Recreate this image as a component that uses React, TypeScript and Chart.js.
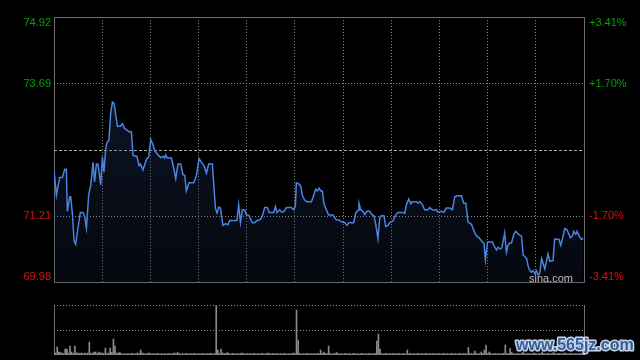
import React, { useEffect, useRef } from 'react';
import { Chart, registerables } from 'chart.js';

Chart.register(...registerables);

// ---- data ----
// minutes since the 09:30 open (HK session: 330 trading minutes)
const minutes = [
  0, 1.5, 3.5, 5.2, 6.7, 7.7, 8.3, 9.8, 10.4, 11.5, 12.5, 13.5, 14.9, 16.4, 18.1, 19.1, 20.2, 21.6, 22.9, 24.3,
  25.3, 26.4, 27.4, 29.1, 30.1, 31.1, 32.2, 33.0, 34.2, 35.3, 36.4, 37.4, 38.4, 39.5, 41.3, 42.6, 44.0, 45.5, 46.7, 48.2,
  49.2, 51.7, 52.9, 53.8, 55.4, 57.5, 59.0, 60.2, 61.3, 62.7, 64.8, 66.4, 67.9, 68.9, 69.5, 70.6, 73.1, 74.5, 75.8, 77.2,
  78.9, 80.3, 81.4, 82.4, 84.1, 87.0, 88.7, 90.3, 91.8, 93.4, 94.9, 96.3, 98.6, 100.5, 101.5, 102.7, 103.6, 105.2, 106.9, 108.3,
  109.4, 111.1, 113.9, 115.0, 116.1, 117.3, 118.7, 119.8, 121.4,
  123.5, 125.0, 126.4, 128.5, 129.8, 131.2, 132.9, 133.9, 136.8, 137.9, 138.8, 140.5, 142.0, 143.2, 144.7, 147.8, 149.2, 150.3, 150.9, 152.4,
  153.6, 154.7, 156.1, 157.5, 160.3, 161.7, 162.9, 164.0, 165.0, 166.1, 167.1, 168.1, 169.6, 171.0, 173.7, 175.4, 177.9, 179.3, 181.0, 182.4,
  183.7, 186.6, 187.9, 189.3, 189.9, 191.0, 192.4, 193.5, 194.9, 196.6, 198.0, 199.2, 200.3, 201.7, 202.8, 203.8, 205.5, 206.5, 208.0, 209.0,
  211.1, 212.8, 214.2, 216.9, 218.4, 219.4, 220.9, 222.1, 223.2, 225.7, 226.7, 227.8, 229.4, 230.8, 232.9, 234.0, 235.6, 237.1, 238.1, 239.1,
  241.2, 242.8, 244.3, 246.4,
  248.1, 249.5, 250.9, 253.7, 255.1, 256.4, 257.8, 259.9, 262.0, 263.4, 264.7, 266.7, 267.7, 268.6, 269.9, 273.0, 274.0, 275.5, 276.5, 278.0,
  278.9, 280.6, 281.7, 282.7, 283.8, 284.8, 286.3, 287.5, 289.4, 291.1, 292.1, 293.1, 294.2, 295.2, 296.2, 297.3, 298.3, 299.4, 300.4, 301.5,
  302.5, 303.6, 304.5, 305.6, 306.6, 307.6, 308.7, 309.7, 310.7, 311.7, 314.4, 315.5, 316.5, 318.0, 319.4, 320.7, 321.5, 322.8, 323.6, 324.9,
  325.7, 327.0, 328.5, 329.5,
];

const prices = [
  72.08, 71.61, 71.94, 71.94, 72.09, 72.09, 71.31, 71.58, 71.58, 71.25, 70.76, 70.70, 71.00, 71.29, 71.29, 71.22, 71.00, 71.61, 71.80, 72.22,
  71.86, 72.19, 72.19, 71.80, 72.33, 72.04, 72.47, 72.59, 72.63, 73.14, 73.34, 73.32, 73.11, 72.89, 72.89, 72.94, 72.85, 72.82, 72.79, 72.79,
  72.35, 72.33, 72.16, 72.19, 72.08, 72.27, 72.33, 72.65, 72.57, 72.44, 72.36, 72.31, 72.33, 72.30, 72.36, 72.30, 72.30, 72.12, 71.92, 72.19,
  72.19, 71.99, 71.98, 71.69, 71.84, 71.84, 71.98, 72.29, 72.22, 72.16, 72.02, 72.19, 72.19, 71.37, 71.28, 71.39, 71.37, 71.05, 71.08, 71.06,
  71.14, 71.14, 71.14, 71.43, 71.10, 71.34, 71.33, 71.25, 71.23,
  71.10, 71.10, 71.14, 71.16, 71.23, 71.38, 71.38, 71.29, 71.29, 71.40, 71.29, 71.34, 71.29, 71.31, 71.38, 71.38, 71.34, 71.41, 71.84, 71.82,
  71.78, 71.60, 71.52, 71.49, 71.49, 71.61, 71.72, 71.69, 71.74, 71.69, 71.69, 71.45, 71.34, 71.24, 71.24, 71.16, 71.14, 71.11, 71.10, 71.05,
  71.10, 71.10, 71.28, 71.33, 71.46, 71.34, 71.31, 71.25, 71.31, 71.31, 71.25, 71.23, 71.07, 70.80, 71.19, 71.23, 71.23, 71.03, 71.05, 71.10,
  71.13, 71.25, 71.29, 71.29, 71.27, 71.43, 71.54, 71.45, 71.49, 71.49, 71.46, 71.49, 71.43, 71.34, 71.34, 71.38, 71.34, 71.33, 71.34, 71.29,
  71.31, 71.29, 71.37, 71.37,
  71.34, 71.58, 71.60, 71.60, 71.46, 71.46, 71.11, 71.07, 70.91, 70.84, 70.82, 70.74, 70.72, 70.41, 70.74, 70.74, 70.67, 70.59, 70.64, 70.61,
  70.64, 70.91, 70.55, 70.68, 70.72, 70.72, 70.88, 70.94, 70.88, 70.85, 70.50, 70.47, 70.44, 70.30, 70.21, 70.18, 70.21, 70.15, 70.21, 70.12,
  70.17, 70.43, 70.35, 70.24, 70.38, 70.52, 70.38, 70.39, 70.39, 70.79, 70.79, 70.68, 70.79, 70.99, 70.97, 70.88, 70.82, 70.85, 70.94, 70.88,
  70.94, 70.85, 70.79, 70.80,
];

// per-minute volume (relative units, panel top = 100), minutes 0..330
const volumes = [
  10, 4, 16, 6, 5, 4, 3, 12, 12, 4, 18, 6, 3, 18, 4, 4, 3, 4, 3, 4, 3, 4, 26, 3, 4, 6, 6, 3, 6, 4,
  4, 3, 14, 3, 4, 14, 5, 32, 18, 4, 4, 5, 3, 2, 3, 2, 3, 2, 3, 3, 2, 3, 4, 3, 10, 4, 3, 2, 3, 4,
  3, 2, 3, 2, 3, 3, 2, 3, 2, 3, 2, 3, 3, 2, 3, 4, 3, 5, 3, 2, 3, 2, 3, 3, 2, 3, 2, 3, 3, 2,
  3, 2, 3, 3, 2, 3, 2, 3, 3, 2, 3, 100, 10, 3, 12, 4, 3, 3, 5, 3, 2, 3, 3, 2, 3, 2, 3, 4, 3, 2,
  3, 2, 3, 2, 3, 3, 2, 3, 2, 3, 3, 2, 3, 4, 3, 2, 3, 3, 2, 3, 2, 3, 2, 3, 3, 2, 3, 2, 3, 4,
  3, 90, 30, 3, 2, 3, 2, 3, 3, 2, 3, 2, 3, 2, 3, 3, 10, 3, 6, 3, 3, 18, 3, 2, 3, 3, 5, 3, 2, 3,
  2, 3, 3, 2, 3, 2, 3, 3, 2, 3, 2, 3, 3, 2, 3, 2, 3, 3, 2, 3, 3, 28, 42, 12, 3, 2, 3, 3, 2, 3,
  2, 3, 3, 2, 3, 3, 2, 3, 3, 2, 10, 3, 3, 2, 3, 2, 3, 3, 2, 3, 2, 3, 3, 2, 3, 2, 3, 3, 2, 3,
  3, 2, 3, 3, 2, 3, 2, 3, 3, 2, 3, 2, 3, 3, 2, 3, 3, 2, 15, 3, 3, 2, 8, 3, 2, 3, 6, 3, 10, 20,
  3, 6, 3, 2, 3, 3, 2, 3, 2, 3, 3, 20, 3, 3, 13, 5, 3, 2, 3, 3, 2, 3, 6, 3, 2, 3, 3, 2, 3, 4,
  3, 2, 3, 3, 6, 3, 2, 3, 3, 2, 3, 5, 3, 2, 3, 3, 2, 3, 4, 3, 2, 3, 3, 2, 3, 3, 2, 3, 3, 2,
  3,
];

const priceMin = 69.98;
const priceMax = 74.92;
const priceTicks = [69.98, 71.215, 72.45, 73.685, 74.92];
const leftLabels = ['69.98', '71.21', '', '73.69', '74.92'];
const rightLabels = ['-3.41%', '-1.70%', '', '+1.70%', '+3.41%'];
const timeTicks = [0, 30, 60, 90, 120, 150, 180, 210, 240, 270, 300, 330];
const volTicks = [50, 100];
const sessionMinutes = 330;
const volMax = 100;

// ---- styles ----
const FONT_FAMILY = "'Liberation Sans', Arial, sans-serif";
const GREEN = '#00a400';
const RED = '#d81414';
const FRAME = '#6e6e6e';
const DOT = '#8e8e8e';
const MID = '#a8a8a8';
const LINE = '#4a84e2';
const VOL = '#8a8a8a';

const setTicks = (vals: number[]) => (s: any) => {
  s.ticks = vals.map((v) => ({ value: v }));
};

const labelCb = (arr: string[]) => (_v: any, index: number, ticks: any[]) => {
  const s = arr[index];
  if (!s) return '';
  if (index === ticks.length - 1) return ['', s];
  if (index === 0) return [s, ''];
  return s;
};

const tickFont = { family: FONT_FAMILY, size: 11, lineHeight: 1.1 };

const sinaPlugin = {
  id: 'sinaMark',
  afterDatasetsDraw(chart: any) {
    const { ctx, chartArea } = chart;
    ctx.save();
    ctx.font = `11px ${FONT_FAMILY}`;
    ctx.fillStyle = '#bcbcbc';
    ctx.textAlign = 'right';
    ctx.textBaseline = 'alphabetic';
    ctx.fillText('sina.com', chartArea.right - 11, chartArea.bottom - 1);
    ctx.restore();
  },
};

const sitePlugin = {
  id: 'siteMark',
  afterDraw(chart: any) {
    const { ctx } = chart;
    ctx.save();
    ctx.font = `bold 16px ${FONT_FAMILY}`;
    ctx.textAlign = 'left';
    ctx.textBaseline = 'alphabetic';
    ctx.lineJoin = 'round';
    ctx.lineWidth = 3;
    ctx.strokeStyle = 'rgba(214,226,244,0.92)';
    ctx.strokeText('www.565jz.com', 516, 60);
    ctx.fillStyle = '#30609f';
    ctx.fillText('www.565jz.com', 516, 60);
    ctx.restore();
  },
};

function priceConfig(): any {
  return {
    type: 'line',
    data: {
      datasets: [
        {
          data: minutes.map((m, i) => ({ x: m, y: prices[i] })),
          borderColor: LINE,
          borderWidth: 1.5,
          pointRadius: 0,
          tension: 0,
          fill: 'start',
          backgroundColor: (c: any) => {
            const { ctx, chartArea } = c.chart;
            if (!chartArea) return 'rgba(0,0,0,0)';
            const g = ctx.createLinearGradient(0, chartArea.top, 0, chartArea.bottom);
            g.addColorStop(0, 'rgba(40,70,130,0.40)');
            g.addColorStop(1, 'rgba(30,50,90,0.15)');
            return g;
          },
          xAxisID: 'x',
          yAxisID: 'y',
        },
      ],
    },
    options: {
      responsive: false,
      animation: false,
      devicePixelRatio: 1,
      layout: { padding: { top: 14, bottom: 16, left: 0, right: 0 } },
      plugins: { legend: { display: false }, tooltip: { enabled: false } },
      scales: {
        x: {
          type: 'linear',
          min: 0,
          max: sessionMinutes,
          offset: false,
          afterBuildTicks: setTicks(timeTicks),
          afterFit: (s: any) => {
            s.height = 0;
          },
          ticks: { display: false },
          grid: {
            offset: false,
            drawTicks: false,
            lineWidth: 1,
            color: (c: any) => (c.index === 0 || c.index === timeTicks.length - 1 ? FRAME : DOT),
          },
          border: {
            display: false,
            dash: (c: any) => (c.index === 0 || c.index === timeTicks.length - 1 ? [] : [1, 2]),
          },
        },
        y: {
          type: 'linear',
          position: 'left',
          min: priceMin,
          max: priceMax,
          afterBuildTicks: setTicks(priceTicks),
          afterFit: (s: any) => {
            s.width = 54;
          },
          ticks: {
            padding: 3,
            font: tickFont,
            color: (c: any) => (c.index < 2 ? RED : GREEN),
            callback: labelCb(leftLabels),
          },
          grid: {
            drawTicks: false,
            lineWidth: 1,
            color: (c: any) => {
              const i = c.index;
              if (i === 0 || i === priceTicks.length - 1) return FRAME;
              if (i === 2) return MID;
              return DOT;
            },
          },
          border: {
            display: false,
            dash: (c: any) => {
              const i = c.index;
              if (i === 0 || i === priceTicks.length - 1) return [];
              if (i === 2) return [3, 2];
              return [1, 2];
            },
          },
        },
        yR: {
          type: 'linear',
          position: 'right',
          min: priceMin,
          max: priceMax,
          afterBuildTicks: setTicks(priceTicks),
          afterFit: (s: any) => {
            s.width = 56;
          },
          ticks: {
            padding: 5,
            font: tickFont,
            color: (c: any) => (c.index < 2 ? RED : GREEN),
            callback: labelCb(rightLabels),
          },
          grid: { display: false, drawTicks: false },
          border: { display: false },
        },
      },
    },
    plugins: [sinaPlugin],
  };
}

function volConfig(): any {
  return {
    type: 'bar',
    data: {
      datasets: [
        {
          data: volumes.map((v, i) => ({ x: i, y: v })),
          backgroundColor: VOL,
          borderWidth: 0,
          barThickness: 1,
        },
      ],
    },
    options: {
      responsive: false,
      animation: false,
      devicePixelRatio: 1,
      layout: { padding: { top: 15, bottom: 5, left: 0, right: 56 } },
      plugins: { legend: { display: false }, tooltip: { enabled: false } },
      scales: {
        x: {
          type: 'linear',
          min: 0,
          max: sessionMinutes,
          offset: false,
          afterBuildTicks: setTicks([0, sessionMinutes]),
          afterFit: (s: any) => {
            s.height = 0;
          },
          ticks: { display: false },
          grid: { offset: false, drawTicks: false, color: FRAME, lineWidth: 1 },
          border: { display: false },
        },
        y: {
          type: 'linear',
          min: 0,
          max: volMax,
          afterBuildTicks: setTicks(volTicks),
          afterFit: (s: any) => {
            s.width = 54;
          },
          ticks: { display: false },
          grid: { drawTicks: false, color: DOT, lineWidth: 1 },
          border: { display: false, dash: [1, 2] },
        },
      },
    },
    plugins: [sitePlugin],
  };
}

export default function App() {
  const priceRef = useRef<HTMLCanvasElement>(null);
  const volRef = useRef<HTMLCanvasElement>(null);

  useEffect(() => {
    if (!priceRef.current || !volRef.current) return;
    const pc = new Chart(priceRef.current, priceConfig());
    const vc = new Chart(volRef.current, volConfig());
    return () => {
      pc.destroy();
      vc.destroy();
    };
  }, []);

  return (
    <div
      style={{
        position: 'fixed',
        left: 0,
        top: 0,
        width: 640,
        height: 360,
        background: '#000',
        overflow: 'hidden',
      }}
    >
      <canvas
        ref={priceRef}
        width={640}
        height={300}
        style={{ position: 'absolute', left: 0, top: 0, width: 640, height: 300 }}
      />
      <canvas
        ref={volRef}
        width={640}
        height={70}
        style={{ position: 'absolute', left: 0, top: 290, width: 640, height: 70 }}
      />
    </div>
  );
}
